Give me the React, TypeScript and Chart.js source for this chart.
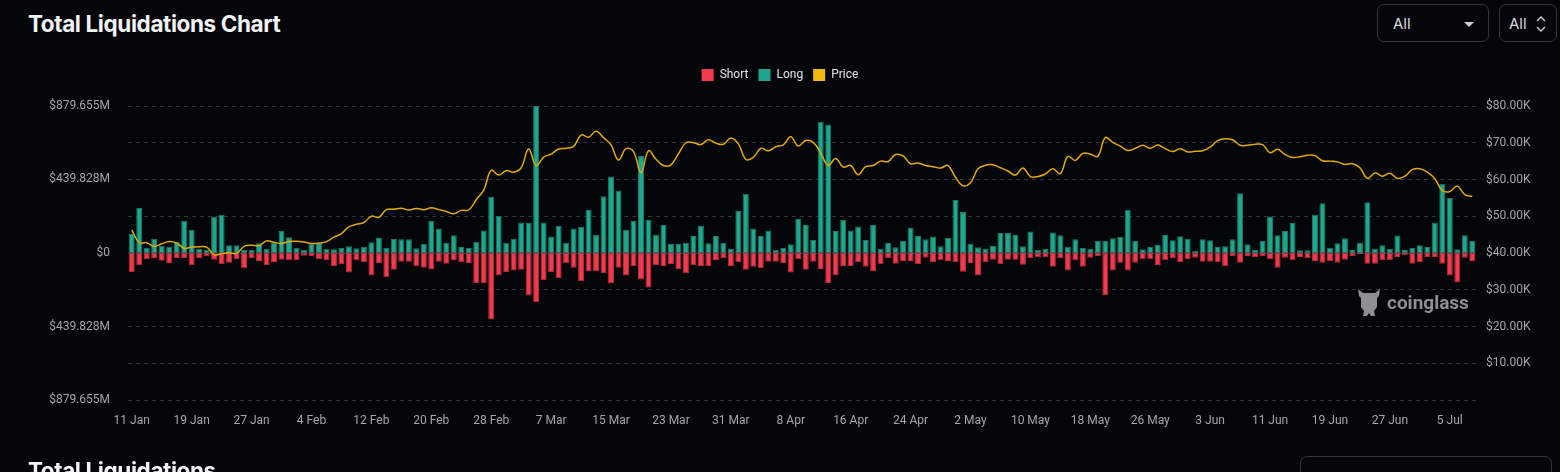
import React, { useEffect, useRef } from "react";
import { Chart, registerables } from "chart.js";

Chart.register(...registerables);

// ---- data (millions USD for liquidations, thousands USD for price) ----
const START_DATE = "2024-01-11";
const DAY_COUNT = 180;

const LONG_M = [
  114, 269, 32, 84, 42, 38, 68, 193, 139, 24, 20, 217, 229, 46, 46, 20, 20, 58, 26, 60,
  132, 94, 32, 20, 56, 60, 26, 22, 30, 40, 28, 38, 64, 90, 32, 84, 82, 82, 28, 56,
  193, 147, 62, 106, 36, 30, 68, 134, 337, 221, 62, 86, 183, 183, 879, 183, 98, 161, 62, 147,
  157, 257, 107, 339, 458, 374, 139, 193, 580, 199, 107, 167, 54, 56, 62, 102, 163, 58, 102, 62,
  26, 251, 355, 147, 102, 134, 20, 30, 52, 203, 167, 78, 785, 769, 132, 199, 134, 159, 78, 167,
  26, 62, 34, 72, 153, 102, 82, 98, 40, 90, 317, 245, 56, 34, 26, 42, 119, 119, 110, 40,
  128, 20, 24, 122, 106, 38, 82, 30, 26, 72, 72, 88, 96, 259, 72, 22, 36, 48, 108, 76,
  100, 86, 14, 82, 76, 36, 40, 82, 357, 52, 18, 72, 219, 106, 132, 179, 16, 16, 229, 297,
  32, 58, 88, 18, 60, 303, 26, 46, 26, 104, 18, 30, 46, 36, 183, 414, 329, 22, 106, 72,
];

const SHORT_M = [
  114, 74, 38, 30, 46, 60, 30, 30, 74, 30, 20, 40, 68, 58, 38, 92, 30, 48, 72, 54,
  40, 44, 44, 16, 18, 38, 44, 80, 66, 116, 44, 54, 134, 60, 145, 100, 52, 52, 80, 88,
  98, 52, 64, 44, 56, 60, 179, 181, 398, 134, 114, 104, 100, 255, 295, 161, 114, 151, 62, 88,
  169, 107, 107, 120, 183, 88, 134, 78, 159, 207, 74, 80, 66, 96, 121, 74, 78, 78, 42, 32,
  78, 56, 100, 82, 90, 52, 52, 60, 116, 36, 100, 52, 96, 179, 134, 78, 78, 56, 82, 107,
  68, 32, 64, 48, 48, 66, 28, 56, 44, 48, 56, 112, 60, 134, 56, 40, 68, 40, 40, 70,
  32, 26, 26, 82, 32, 104, 44, 82, 28, 18, 253, 104, 58, 104, 58, 38, 38, 72, 44, 32,
  54, 38, 28, 52, 52, 54, 80, 18, 58, 18, 24, 18, 38, 88, 28, 44, 24, 32, 48, 58,
  48, 58, 40, 18, 8, 64, 64, 44, 44, 24, 12, 64, 54, 24, 24, 64, 134, 177, 28, 48,
];

const PRICE_K = [
  // Jan 11 - Jan 31
  46.3, 42.8, 42.8, 41.8, 42.5, 43.1, 42.7, 41.3, 41.6, 41.7, 41.6, 39.5, 39.8, 40.1, 39.9, 41.8, 42.1, 42.0, 43.3, 42.9, 42.6,
  // Feb
  43.1, 43.2, 43.0, 42.6, 42.7, 43.1, 44.3, 45.3, 47.1, 47.8, 48.3, 50.0, 49.7, 51.8, 51.9, 52.2, 51.7, 52.1, 51.8, 52.3,
  51.8, 51.3, 50.7, 51.6, 51.7, 54.5, 57.1, 62.5, 61.2,
  // Mar
  62.4, 62.0, 63.2, 68.3, 63.8, 66.1, 66.9, 68.3, 68.5, 69.0, 72.1, 71.5, 73.1, 71.4, 69.4, 65.3, 68.4, 67.6, 61.9, 67.8,
  65.5, 63.8, 64.0, 67.0, 70.0, 70.0, 69.5, 70.8, 69.9, 69.6, 71.3,
  // Apr
  69.7, 65.5, 66.0, 68.5, 67.8, 68.9, 69.4, 71.6, 69.1, 70.6, 70.1, 67.2, 63.8, 65.7, 63.4, 63.8, 61.3, 63.5, 63.8, 65.0,
  64.9, 66.8, 66.4, 64.3, 64.5, 63.8, 63.5, 63.1, 63.8, 60.6,
  // May
  58.3, 59.1, 62.9, 63.9, 64.0, 63.2, 62.3, 61.2, 63.1, 60.8, 60.8, 61.5, 62.9, 61.6, 66.3, 65.2, 67.1, 66.9, 66.3, 71.4,
  70.1, 69.1, 67.9, 68.5, 69.3, 68.5, 69.4, 68.4, 67.6, 68.4, 67.5,
  // Jun
  67.7, 67.8, 68.8, 70.6, 71.1, 70.8, 69.3, 69.3, 69.6, 69.5, 67.3, 68.2, 66.8, 66.0, 66.2, 66.6, 66.5, 65.1, 65.0, 64.8,
  64.1, 64.3, 63.2, 60.3, 61.8, 60.9, 61.7, 60.3, 60.9, 62.7,
  // Jul 1 - 8
  62.9, 62.0, 60.2, 57.0, 56.7, 58.2, 55.9, 55.4,
];

const LEFT_TICKS = [-879.655, -659.741, -439.828, -219.914, 0, 219.914, 439.828, 659.741, 879.655];
const LEFT_TICK_LABELS = ["$879.655M", "", "$439.828M", "", "$0", "", "$439.828M", "", "$879.655M"];
const RIGHT_TICKS = [0, 10, 20, 30, 40, 50, 60, 70, 80];
const RIGHT_TICK_LABELS = ["", "$10.00K", "$20.00K", "$30.00K", "$40.00K", "$50.00K", "$60.00K", "$70.00K", "$80.00K"];
const X_LABEL_EVERY = 8;

const MONTHS = ["Jan", "Feb", "Mar", "Apr", "May", "Jun", "Jul", "Aug", "Sep", "Oct", "Nov", "Dec"];

function buildDateLabels(): string[] {
  const out: string[] = [];
  const d = new Date(START_DATE + "T00:00:00Z");
  for (let i = 0; i < DAY_COUNT; i++) {
    out.push(`${d.getUTCDate()} ${MONTHS[d.getUTCMonth()]}`);
    d.setUTCDate(d.getUTCDate() + 1);
  }
  return out;
}

const COLORS = {
  bg: "#05060a",
  short: "#f23a4f",
  shortBorder: "#b9283a",
  long: "#1fa68d",
  longBorder: "#157a68",
  price: "#e2a90a",
  priceLegend: "#f0b90b",
  grid: "#33353b",
  tick: "#a4a6ab",
};

export default function App() {
  const canvasRef = useRef<HTMLCanvasElement | null>(null);

  useEffect(() => {
    document.body.style.margin = "0";
    document.body.style.background = COLORS.bg;
    const labels = buildDateLabels();
    const ctx = canvasRef.current!;
    const legendGap = {
      id: "legendGap",
      beforeInit(chart: any) {
        const legend = chart.legend;
        if (!legend) return;
        const orig = legend.fit;
        legend.fit = function () {
          orig.bind(legend)();
          this.height += 15;
        };
      },
    };
    const chart = new Chart(ctx, {
      type: "bar",
      data: {
        labels,
        datasets: [
          {
            type: "bar",
            label: "Short",
            data: SHORT_M.map((v) => -v),
            backgroundColor: COLORS.short,
            borderColor: COLORS.shortBorder,
            borderWidth: 1,
            borderSkipped: false,
            yAxisID: "y",
            order: 2,
            barPercentage: 0.8,
            categoryPercentage: 1,
          } as any,
          {
            type: "bar",
            label: "Long",
            data: LONG_M,
            backgroundColor: COLORS.long,
            borderColor: COLORS.longBorder,
            borderWidth: 1,
            borderSkipped: false,
            yAxisID: "y",
            order: 2,
            barPercentage: 0.8,
            categoryPercentage: 1,
          } as any,
          {
            type: "line",
            label: "Price",
            data: PRICE_K,
            borderColor: COLORS.price,
            backgroundColor: COLORS.priceLegend,
            borderWidth: 1.5,
            pointRadius: 0,
            tension: 0.4,
            yAxisID: "y1",
            order: 0,
          } as any,
        ],
      },
      options: {
        animation: false,
        responsive: true,
        maintainAspectRatio: false,
        layout: { padding: { top: 59, bottom: 42, left: 0, right: 0 } },
        plugins: {
          tooltip: { enabled: false },
          legend: {
            display: true,
            position: "top",
            labels: {
              color: "#e4e4e6",
              boxWidth: 12,
              boxHeight: 12,
              padding: 10,
              font: { family: "Roboto", size: 12 },
              generateLabels(chart: any) {
                const fills = [COLORS.short, COLORS.long, COLORS.priceLegend];
                return chart.data.datasets.map((ds: any, i: number) => ({
                  text: ds.label,
                  fillStyle: fills[i],
                  strokeStyle: fills[i],
                  lineWidth: 0,
                  hidden: false,
                  datasetIndex: i,
                  fontColor: "#e4e4e6",
                }));
              },
            },
          },
        },
        scales: {
          x: {
            stacked: true,
            offset: true,
            grid: { display: false },
            border: { display: false },
            ticks: {
              autoSkip: false,
              maxRotation: 0,
              minRotation: 0,
              color: COLORS.tick,
              padding: 6,
              font: { family: "Roboto", size: 12 },
              callback: (_v: any, i: number) => (i % X_LABEL_EVERY === 0 ? labels[i] : ""),
            },
            afterFit: (s: any) => {
              s.height = 30;
            },
          },
          y: {
            stacked: true,
            position: "left",
            min: LEFT_TICKS[0],
            max: LEFT_TICKS[LEFT_TICKS.length - 1],
            grid: { display: false },
            border: { display: false },
            afterBuildTicks: (s: any) => {
              s.ticks = LEFT_TICKS.map((v) => ({ value: v }));
            },
            ticks: {
              color: COLORS.tick,
              padding: 10,
              font: { family: "Roboto", size: 12 },
              callback: (_v: any, i: number) => LEFT_TICK_LABELS[i],
            },
            afterFit: (s: any) => {
              s.width = 128;
            },
          },
          y1: {
            position: "right",
            min: RIGHT_TICKS[0],
            max: RIGHT_TICKS[RIGHT_TICKS.length - 1],
            grid: {
              display: true,
              color: COLORS.grid,
              drawTicks: false,
            } as any,
            border: { display: false, dash: [4, 4] } as any,
            afterBuildTicks: (s: any) => {
              s.ticks = RIGHT_TICKS.map((v) => ({ value: v }));
            },
            ticks: {
              color: COLORS.tick,
              padding: 10,
              font: { family: "Roboto", size: 12 },
              callback: (_v: any, i: number) => RIGHT_TICK_LABELS[i],
            },
            afterFit: (s: any) => {
              s.width = 84;
            },
          },
        },
      },
      plugins: [legendGap],
    });
    return () => chart.destroy();
  }, []);

  const boxStyle: React.CSSProperties = {
    position: "absolute",
    top: 4,
    height: 38,
    border: "1px solid #34363c",
    borderRadius: 7,
    boxSizing: "border-box",
    color: "#d8d9dc",
    fontFamily: "Inter, Roboto, sans-serif",
    fontSize: 15,
    display: "flex",
    alignItems: "center",
  };

  const titleStyle: React.CSSProperties = {
    position: "absolute",
    left: 28,
    fontFamily: "Inter, sans-serif",
    fontWeight: 700,
    fontSize: 22.5,
    letterSpacing: -0.4,
    color: "#f2f3f5",
    whiteSpace: "nowrap",
  };

  return (
    <div style={{ position: "relative", width: 1560, height: 472, background: COLORS.bg, overflow: "hidden" }}>
      <div style={{ ...titleStyle, top: 10 }}>Total Liquidations Chart</div>
      <div style={{ ...boxStyle, left: 1377, width: 112 }}>
        <span style={{ marginLeft: 15 }}>All</span>
        <svg width="10" height="6" style={{ position: "absolute", left: 86, top: 17 }}>
          <polygon points="0,0 10,0 5,5" fill="#cfd0d3" />
        </svg>
      </div>
      <div style={{ ...boxStyle, left: 1499, width: 58 }}>
        <span style={{ marginLeft: 9 }}>All</span>
        <svg width="10" height="16" style={{ position: "absolute", left: 36, top: 11 }}>
          <polyline points="1,5 5,1 9,5" fill="none" stroke="#cfd0d3" strokeWidth="1.4" />
          <polyline points="1,11 5,15 9,11" fill="none" stroke="#cfd0d3" strokeWidth="1.4" />
        </svg>
      </div>
      <div style={{ position: "absolute", left: 0, top: 0, width: 1560, height: 472 }}>
        <canvas ref={canvasRef} />
      </div>
      <div style={{ position: "absolute", left: 1355, top: 287, display: "flex", alignItems: "center", pointerEvents: "none" }}>
        <svg width="28" height="30" viewBox="0 0 28 30">
          <path
            d="M3 2 L8 6 L20 6 L25 2 L24 9 L22 11 L22 20 L19 24 L20 29 L16 29 L14 26 L12 29 L8 29 L9 24 L6 20 L6 11 L4 9 Z"
            fill="#8e8f93"
          />
        </svg>
        <span
          style={{
            marginLeft: 4,
            fontFamily: "Roboto, sans-serif",
            fontWeight: 700,
            fontSize: 19,
            color: "#8e8f93",
          }}
        >
          coinglass
        </span>
      </div>
      <div style={{ ...titleStyle, top: 457 }}>Total Liquidations</div>
      <div
        style={{
          position: "absolute",
          left: 1300,
          top: 456,
          width: 252,
          height: 40,
          border: "1px solid #34363c",
          borderRadius: 7,
          boxSizing: "border-box",
        }}
      />
    </div>
  );
}
